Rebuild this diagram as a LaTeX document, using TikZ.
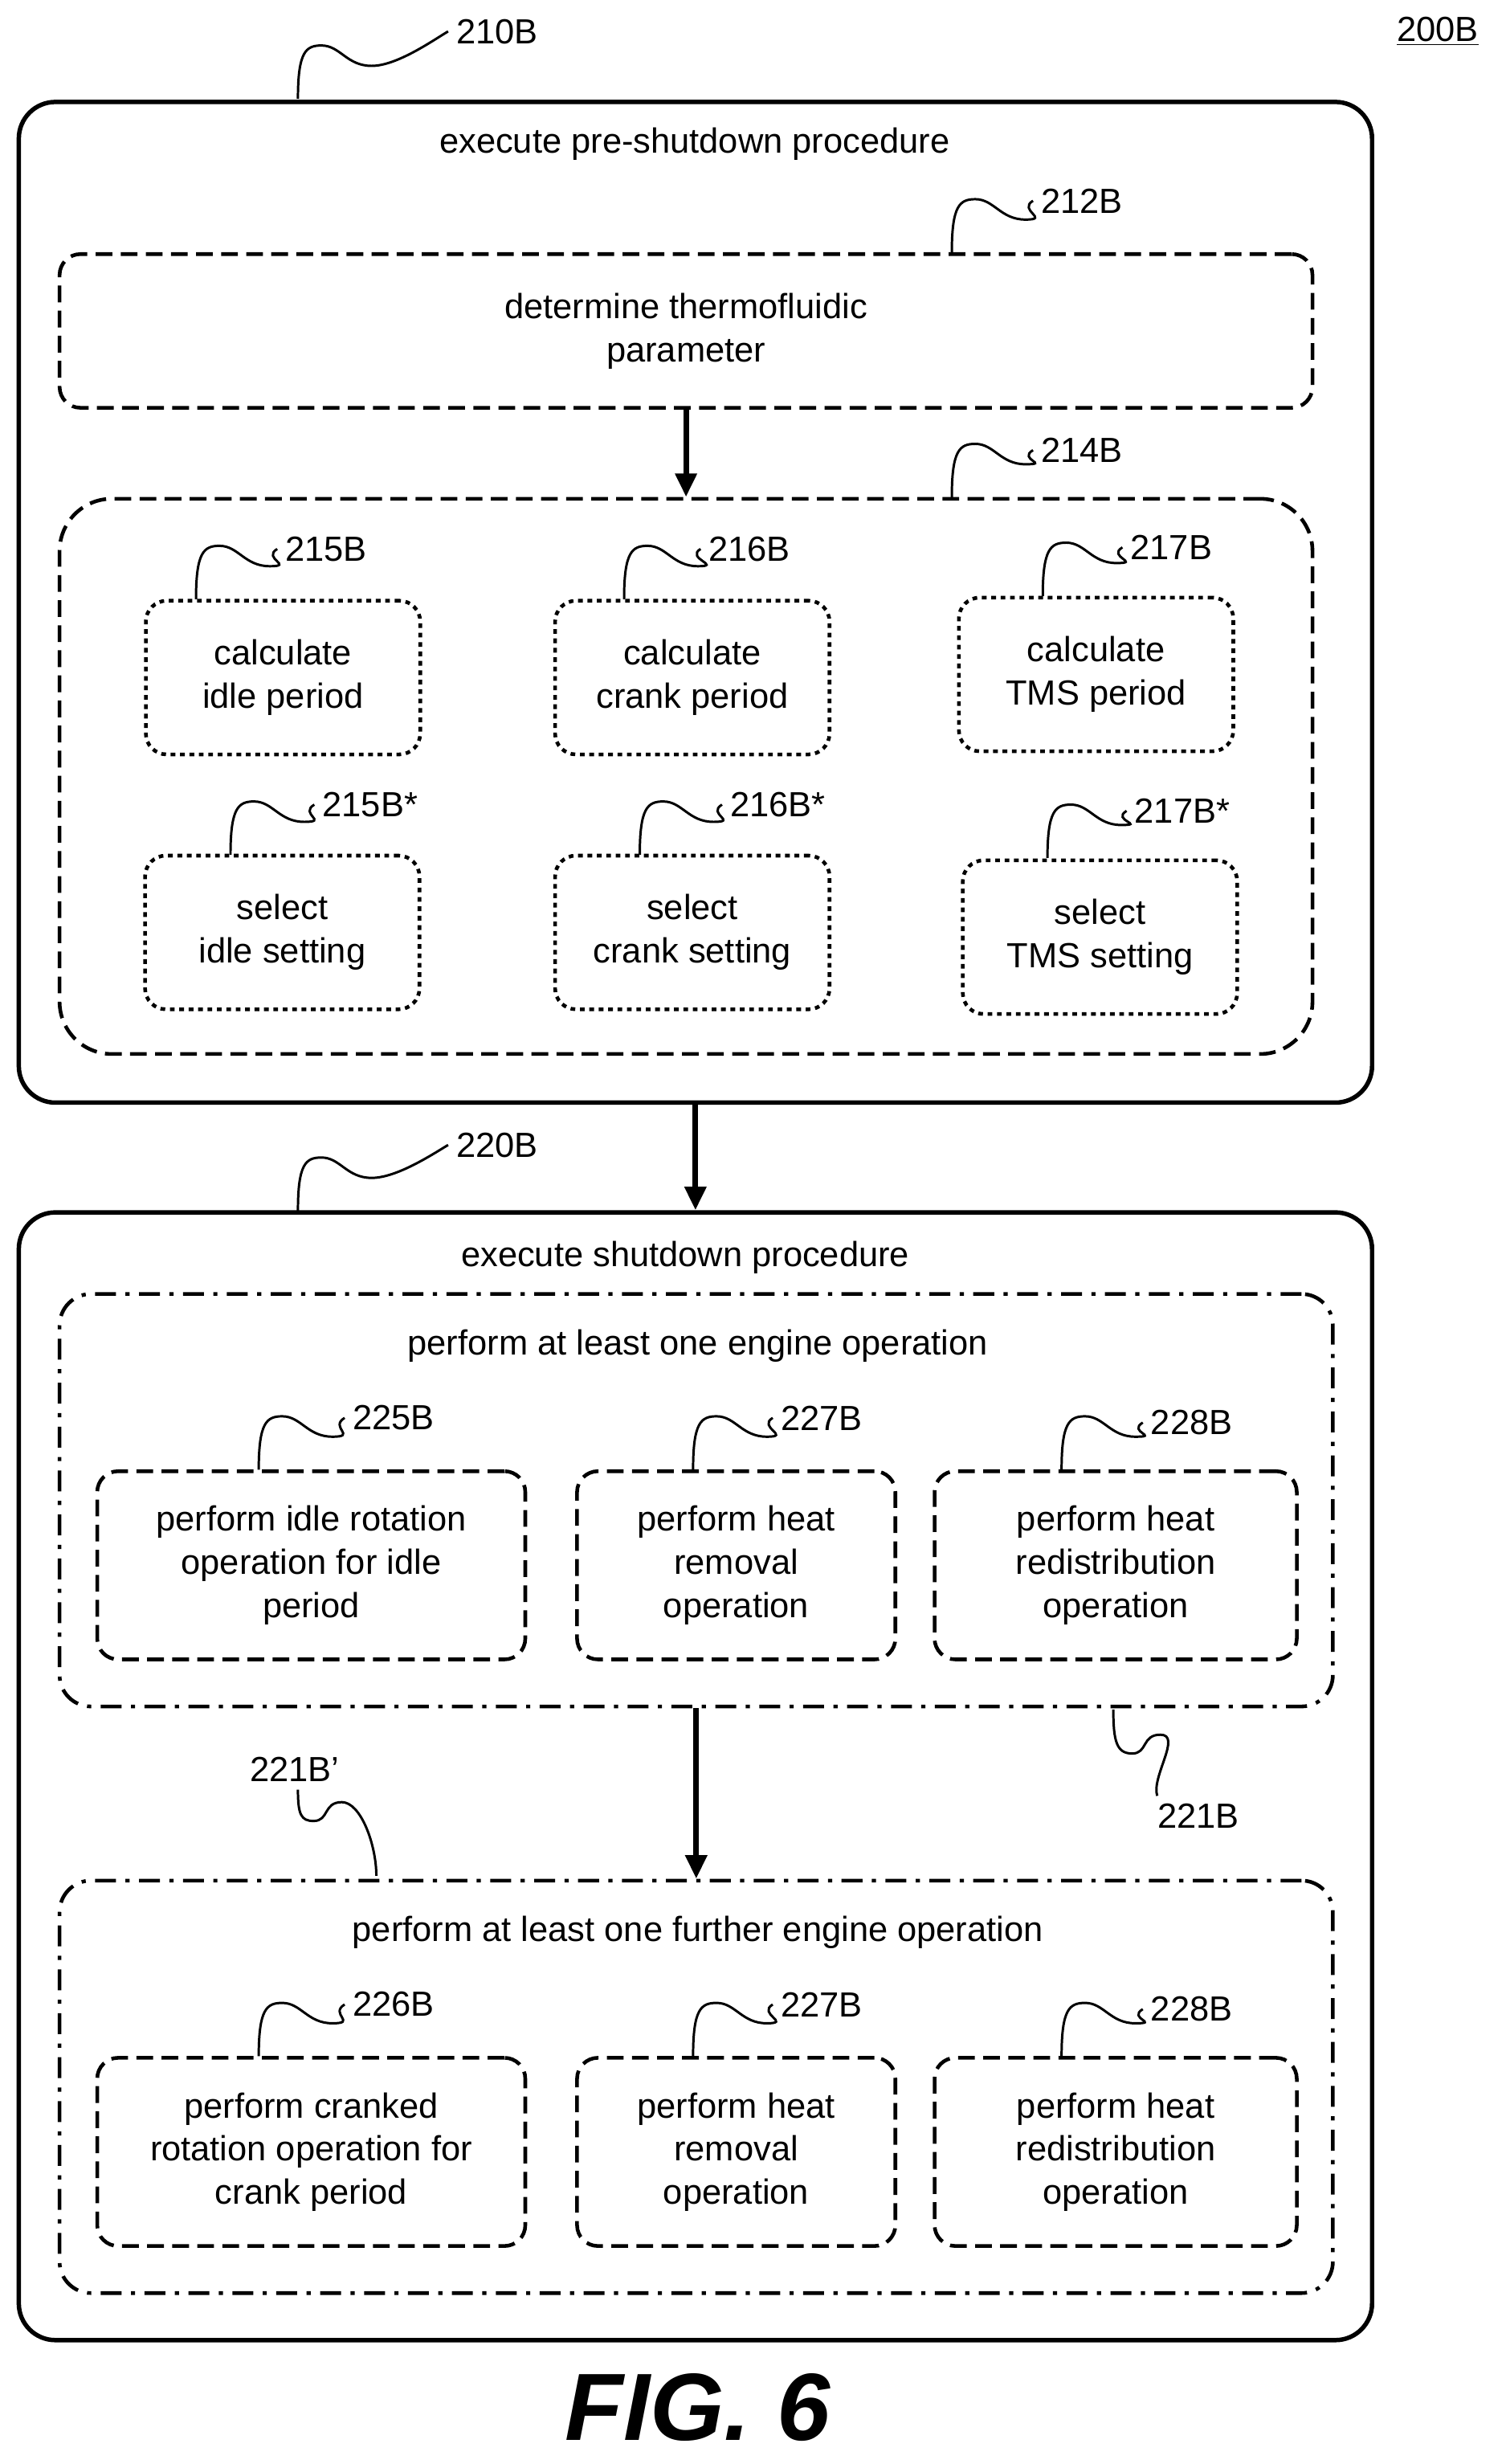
\documentclass[tikz,border=0pt]{standalone}
\usepackage{fontspec}
\setmainfont{Liberation Sans}
\usetikzlibrary{arrows.meta}
\tikzset{
  every node/.style={font=\fontsize{19}{23.5}\selectfont, align=center, inner sep=0pt},
  outer/.style={draw, line width=2.4pt, rounded corners=7mm},
  dash box/.style={draw, line width=2pt, rounded corners=4mm, dash pattern=on 3.2mm off 1.6mm},
  dot box/.style={draw, line width=2pt, rounded corners=4mm, dash pattern=on 0.9mm off 0.9mm},
  dashdot box/.style={draw, line width=2pt, rounded corners=6mm, dash pattern=on 4mm off 1.8mm on 0.8mm off 1.8mm},
  flow/.style={line width=3pt, -{Triangle[length=4.5mm,width=4mm]}},
  lead/.style={line width=1.3pt},
}
\begin{document}
\begin{tikzpicture}[x=0.3mm,y=-0.3mm]
\useasboundingbox (0,0) rectangle (960,1571);

% pre-shutdown
\node[outer, minimum width=258.9mm, minimum height=191.4mm] (pre) at (443.5,384) {};
\node (pretitle) at (443,92) {execute pre-shutdown procedure};
\node[dash box, minimum width=239.7mm, minimum height=29.4mm] (b212) at (437.5,211) {determine thermofluidic\\parameter};
\node[dash box, rounded corners=10mm, minimum width=239.7mm, minimum height=106.2mm] (b214) at (437.5,495) {};
\node[dot box, minimum width=52.5mm, minimum height=29.4mm] (b215) at (180.5,432) {calculate\\idle period};
\node[dot box, minimum width=52.5mm, minimum height=29.4mm] (b216) at (441.5,432) {calculate\\crank period};
\node[dot box, minimum width=52.5mm, minimum height=29.4mm] (b217) at (699,430) {calculate\\TMS period};
\node[dot box, minimum width=52.5mm, minimum height=29.4mm] (b215s) at (180,594.5) {select\\idle setting};
\node[dot box, minimum width=52.5mm, minimum height=29.4mm] (b216s) at (441.5,594.5) {select\\crank setting};
\node[dot box, minimum width=52.5mm, minimum height=29.4mm] (b217s) at (701.5,597.5) {select\\TMS setting};
\draw[flow] (b212.south) -- (b214.north);

% shutdown
\node[outer, minimum width=258.9mm, minimum height=215.7mm] (shut) at (443.5,1132.5) {};
\node (shuttitle) at (437,802) {execute shutdown procedure};
\node[dashdot box, minimum width=243.6mm, minimum height=78.9mm] (b221) at (444,956.5) {};
\node (optitle) at (445,858) {perform at least one engine operation};
\node[dash box, minimum width=81.9mm, minimum height=36mm] (b225) at (198.5,998) {perform idle rotation\\operation for idle\\period};
\node[dash box, minimum width=60.9mm, minimum height=36mm] (b227) at (469.5,998) {perform heat\\removal\\operation};
\node[dash box, minimum width=69.3mm, minimum height=36mm] (b228) at (711.5,998) {perform heat\\redistribution\\operation};
\node[dashdot box, minimum width=243.6mm, minimum height=78.9mm] (b221p) at (444,1330.5) {};
\node (fotitle) at (445,1232) {perform at least one further engine operation};
\node[dash box, minimum width=81.9mm, minimum height=36mm] (b226) at (198.5,1372) {perform cranked\\rotation operation for\\crank period};
\node[dash box, minimum width=60.9mm, minimum height=36mm] (b227p) at (469.5,1372) {perform heat\\removal\\operation};
\node[dash box, minimum width=69.3mm, minimum height=36mm] (b228p) at (711.5,1372) {perform heat\\redistribution\\operation};
\draw[flow] (pre.south) -- (shut.north);
\draw[flow] (b221.south) -- (b221p.north);

% reference labels
\node (l200) at (917,20) {\underline{200B}};
\foreach \nm/\lx/\ly/\sx/\sy/\txt in {
  210/317/20/190/63/210B, 212/690/128/607/161/212B, 214/690/287/607/317/214B,
  215/208/350/125/382/215B, 216/478/350/398/382/216B, 217/747/349/665/380/217B,
  215s/236/513/147/545/215B*, 216s/496/513/408/545/216B*, 217s/754/517/668/547/217B*,
  220/317/730/190/772/220B, 225/251/904/165/937/225B, 227/524/904/442/937/227B,
  228/760/907/677/937/228B, 226/251/1278/165/1311/226B, 227p/524/1278/442/1311/227B,
  228p/760/1281/677/1311/228B} {
  \node[inner sep=1.5mm] (l\nm) at (\lx,\ly) {\txt};
  \coordinate (s\nm) at (\sx,\sy);
  \draw[lead] (s\nm) .. controls +(0,-30) and +(-10,0) .. ++(15,-34)
    .. controls +(12,0) and +(-16,0) .. ++(32,13)
    .. controls +(16,0) and +(-10,6) .. (l\nm.west);
}
\node[anchor=west] (l221) at (738,1158) {221B};
\coordinate (s221) at (710,1090);
\draw[lead] (s221) .. controls +(0,20) and +(-10,0) .. ++(12,28)
  .. controls +(10,0) and +(-12,0) .. ++(18,-12)
  .. controls +(14,0) and +(-4,-12) .. ([yshift=1.5mm]l221.north west);
\node (l221p) at (188,1128) {221B’};
\coordinate (s221p) at (240,1196);
\draw[lead] ([yshift=-1.5mm]l221p.south -| 190,0) .. controls +(0,16) and +(-8,0) .. ++(10,20)
  .. controls +(10,0) and +(-12,0) .. ++(18,-12)
  .. controls +(12,0) and +(0,-20) .. (s221p);

\node (fig) at (445,1535) {\fontsize{52}{56}\selectfont\bfseries\itshape FIG. 6};
\end{tikzpicture}
\end{document}
